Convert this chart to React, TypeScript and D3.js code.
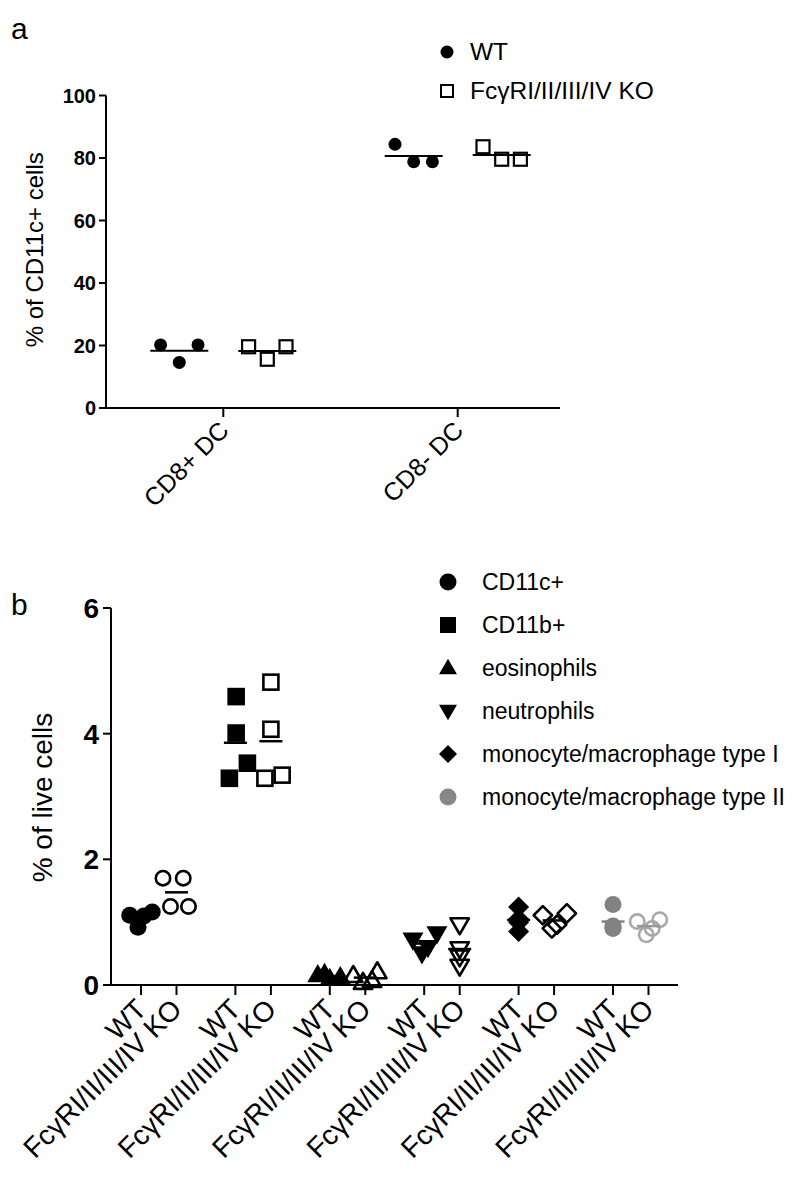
import React from 'react';
import * as d3 from 'd3';

// ---------- Panel a data ----------
const aCategories = ['CD8+ DC', 'CD8- DC'];
const aGenotypes = ['WT', 'FcγRI/II/III/IV KO'];
const aWT_CD8pos = [20.2, 14.6, 20.2];
const aKO_CD8pos = [19.6, 15.6, 19.6];
const aWT_CD8neg = [84.4, 78.8, 78.8];
const aKO_CD8neg = [83.6, 79.6, 79.6];
const aJitter = [-1, 0, 1];
const aYTicks = [0, 20, 40, 60, 80, 100];

// ---------- Panel b data ----------
const bCellTypes = ['CD11c+', 'CD11b+', 'eosinophils', 'neutrophils', 'monocyte/macrophage type I', 'monocyte/macrophage type II'];
const bGenotypeLabels = ['WT', 'FcγRI/II/III/IV KO'];
const bCD11cWT = [1.11, 0.92, 1.16, 1.10];
const bCD11cKO = [1.70, 1.70, 1.25, 1.25];
const bCD11bWT = [4.59, 4.01, 3.53, 3.29];
const bCD11bKO = [4.82, 4.07, 3.29, 3.34];
const bEosWT = [0.16, 0.10, 0.13, 0.18];
const bEosKO = [0.15, 0.04, 0.07, 0.21];
const bNeutWT = [0.72, 0.50, 0.82, 0.60];
const bNeutKO = [0.96, 0.58, 0.45, 0.30];
const bMacIWT = [1.24, 1.05, 0.85, 1.00];
const bMacIKO = [1.11, 1.14, 0.90, 0.96];
const bMacIIWT = [1.28, 0.90, 0.92, 0.94];
const bMacIIKO = [1.01, 1.04, 0.80, 0.90];
// horizontal jitter (units of ~marker radius)
const bCD11cWTJit = [-1.5, -0.4, 1.5, 0.4];
const bCD11cKOJit = [-1.8, 0.9, -0.8, 1.6];
const bCD11bWTJit = [0.1, 0.1, 1.6, -0.8];
const bCD11bKOJit = [0, 0, -0.8, 1.5];
const bEosWTJit = [-1.6, 0, 1.4, -0.7];
const bEosKOJit = [-1.6, -0.3, 0.9, 1.6];
const bNeutWTJit = [-1.5, -0.3, 1.7, 0.5];
const bNeutKOJit = [0, 0, 0, 0];
const bMacIWTJit = [0, 0, 0, 0];
const bMacIKOJit = [-1.5, 1.7, -0.3, 0.4];
const bMacIIWTJit = [0, 0, 0, 0];
const bMacIIKOJit = [-1.5, 1.5, -0.3, 0.5];
const bYTicks = [0, 2, 4, 6];

const FONT = "'Liberation Sans', Arial, Helvetica, sans-serif";

type Shape = 'circle' | 'square' | 'triUp' | 'triDown' | 'diamond';

function Marker({ shape, x, y, size, fill, stroke, sw }: { shape: Shape; x: number; y: number; size: number; fill: string; stroke: string; sw: number }) {
  if (shape === 'circle') return <circle cx={x} cy={y} r={size} fill={fill} stroke={stroke} strokeWidth={sw} />;
  if (shape === 'square') return <rect x={x - size} y={y - size} width={size * 2} height={size * 2} fill={fill} stroke={stroke} strokeWidth={sw} />;
  if (shape === 'diamond') {
    const p = `M${x},${y - size}L${x + size},${y}L${x},${y + size}L${x - size},${y}Z`;
    return <path d={p} fill={fill} stroke={stroke} strokeWidth={sw} strokeLinejoin="round" />;
  }
  const h = size * 1.732;
  const dir = shape === 'triUp' ? 1 : -1;
  const p = `M${x},${y - dir * h * 0.6}L${x + size},${y + dir * h * 0.4}L${x - size},${y + dir * h * 0.4}Z`;
  return <path d={p} fill={fill} stroke={stroke} strokeWidth={sw} strokeLinejoin="round" />;
}

function PanelA() {
  const y = d3.scaleLinear().domain([0, 100]).range([408, 95.5]);
  const x = d3.scalePoint<string>().domain(aCategories).range([223.3, 457.7]);
  const axisLeft = 106, axisRight = 560;
  const groupOff = 44, spread = 18.7, meanHalf = 29;
  const groups = [
    { cat: aCategories[0], g: 0, vals: aWT_CD8pos },
    { cat: aCategories[0], g: 1, vals: aKO_CD8pos },
    { cat: aCategories[1], g: 0, vals: aWT_CD8neg },
    { cat: aCategories[1], g: 1, vals: aKO_CD8neg },
  ];
  return (
    <g>
      <text x={11} y={39} fontSize={30} fontFamily={FONT}>a</text>
      {/* legend */}
      <circle cx={447} cy={52} r={6.5} fill="#000" />
      <text x={470} y={60} fontSize={24.5} fontFamily={FONT}>{aGenotypes[0]}</text>
      <rect x={441} y={85} width={12} height={12} fill="#fff" stroke="#000" strokeWidth={2} />
      <text x={470} y={99} fontSize={24.5} fontFamily={FONT}>{aGenotypes[1]}</text>
      {/* axes */}
      <line x1={axisLeft} x2={axisLeft} y1={y(100)} y2={y(0)} stroke="#000" strokeWidth={2} />
      <line x1={axisLeft - 1} x2={axisRight} y1={y(0)} y2={y(0)} stroke="#000" strokeWidth={2} />
      {aYTicks.map(t => (
        <g key={t}>
          <line x1={axisLeft - 7} x2={axisLeft} y1={y(t)} y2={y(t)} stroke="#000" strokeWidth={2} />
          <text x={axisLeft - 10} y={y(t)} dy="0.36em" textAnchor="end" fontSize={20} fontWeight="bold" fontFamily={FONT}>{t}</text>
        </g>
      ))}
      {aCategories.map(c => (
        <g key={c}>
          <line x1={x(c)} x2={x(c)} y1={y(0)} y2={y(0) + 9} stroke="#000" strokeWidth={2} />
          <text transform={`translate(${(x(c) as number) + 7},${y(0) + 24}) rotate(-45)`} textAnchor="end" fontSize={25} fontFamily={FONT}>{c}</text>
        </g>
      ))}
      <text transform={`translate(43,${y(50) - 2}) rotate(-90)`} textAnchor="middle" fontSize={24} fontFamily={FONT}>% of CD11c+ cells</text>
      {/* data */}
      {groups.map((gr, gi) => {
        const cx = (x(gr.cat) as number) + (gr.g === 0 ? -groupOff : groupOff);
        const m = d3.mean(gr.vals) as number;
        return (
          <g key={gi}>
            {gr.vals.map((v, i) => (
              <Marker key={i} shape={gr.g === 0 ? 'circle' : 'square'} x={cx + aJitter[i] * spread} y={y(v)} size={6.5} fill={gr.g === 0 ? '#000' : '#fff'} stroke="#000" sw={gr.g === 0 ? 0 : 2.2} />
            ))}
            <line x1={cx - meanHalf} x2={cx + meanHalf} y1={y(m)} y2={y(m)} stroke="#000" strokeWidth={2} />
          </g>
        );
      })}
    </g>
  );
}

function PanelB() {
  const y = d3.scaleLinear().domain([0, 6]).range([985, 608]);
  const slot = d3.scaleLinear().domain([0, 1]).range([141, 176.5]);
  const groupSpacing = 94.4 / 35.5;
  const pos = (g: number, k: number) => slot(g * groupSpacing + k);
  const axisLeft = 111, axisRight = 678;
  const jitUnit = 7.5;
  const meanHalf = 11.5;
  const shapes: Shape[] = ['circle', 'square', 'triUp', 'triDown', 'diamond', 'circle'];
  const sizes = [8.5, 8.8, 10.5, 10.5, 10.5, 8.5];
  const wtData = [bCD11cWT, bCD11bWT, bEosWT, bNeutWT, bMacIWT, bMacIIWT];
  const koData = [bCD11cKO, bCD11bKO, bEosKO, bNeutKO, bMacIKO, bMacIIKO];
  const wtJit = [bCD11cWTJit, bCD11bWTJit, bEosWTJit, bNeutWTJit, bMacIWTJit, bMacIIWTJit];
  const koJit = [bCD11cKOJit, bCD11bKOJit, bEosKOJit, bNeutKOJit, bMacIKOJit, bMacIIKOJit];
  const legendRows = d3.scaleLinear().domain([0, 5]).range([582, 797]);

  return (
    <g>
      <text x={11} y={615} fontSize={30} fontFamily={FONT}>b</text>
      {/* legend */}
      {bCellTypes.map((c, i) => {
        const grey = i === 5;
        return (
          <g key={c}>
            <Marker shape={shapes[i]} x={448} y={legendRows(i)} size={shapes[i] === 'square' ? 8 : shapes[i] === 'circle' ? 8.5 : 9} fill={grey ? '#878787' : '#000'} stroke="none" sw={0} />
            <text x={482} y={legendRows(i)} dy="0.36em" fontSize={23} fontFamily={FONT}>{c}</text>
          </g>
        );
      })}
      {/* axes */}
      <line x1={axisLeft} x2={axisLeft} y1={y(6)} y2={y(0)} stroke="#000" strokeWidth={2} />
      <line x1={axisLeft - 1} x2={axisRight} y1={y(0)} y2={y(0)} stroke="#000" strokeWidth={2} />
      {bYTicks.map(t => (
        <g key={t}>
          <line x1={axisLeft - 8} x2={axisLeft} y1={y(t)} y2={y(t)} stroke="#000" strokeWidth={2} />
          <text x={axisLeft - 12} y={y(t)} dy="0.36em" textAnchor="end" fontSize={28} fontWeight="bold" fontFamily={FONT}>{t}</text>
        </g>
      ))}
      <text transform={`translate(52,${y(3) + 1}) rotate(-90)`} textAnchor="middle" fontSize={28} fontFamily={FONT}>% of live cells</text>
      {bCellTypes.map((c, g) => (
        <g key={c}>
          {[0, 1].map(k => (
            <g key={k}>
              <line x1={pos(g, k)} x2={pos(g, k)} y1={y(0)} y2={y(0) + 10} stroke="#000" strokeWidth={2} />
              <text transform={`translate(${pos(g, k) + 7},${y(0) + 26}) rotate(-45)`} textAnchor="end" fontSize={28} fontFamily={FONT}>{bGenotypeLabels[k]}</text>
            </g>
          ))}
        </g>
      ))}
      {/* data */}
      {bCellTypes.map((c, g) => {
        const grey = g === 5;
        const items = [
          { k: 0, vals: wtData[g], jit: wtJit[g] },
          { k: 1, vals: koData[g], jit: koJit[g] },
        ];
        return (
          <g key={c}>
            {items.map(it => {
              const cx = pos(g, it.k);
              const m = d3.mean(it.vals) as number;
              const col = grey ? (it.k === 0 ? '#828282' : '#a8a8a8') : '#000';
              const lineCol = grey ? (it.k === 0 ? '#828282' : '#999') : '#000';
              return (
                <g key={it.k}>
                  {it.vals.map((v, i) => (
                    <Marker key={i} shape={shapes[g]} x={cx + it.jit[i] * jitUnit} y={y(v)}
                      size={it.k === 0 ? sizes[g] : sizes[g] - 1.3}
                      fill={it.k === 0 ? col : 'none'} stroke={col} sw={it.k === 0 ? 0 : 2.6} />
                  ))}
                  <line x1={cx - meanHalf} x2={cx + meanHalf} y1={y(m)} y2={y(m)} stroke={lineCol} strokeWidth={2.5} />
                </g>
              );
            })}
          </g>
        );
      })}
    </g>
  );
}

export default function App() {
  return (
    <svg width={800} height={1189} viewBox="0 0 800 1189" style={{ display: 'block', position: 'absolute', left: 0, top: 0, background: '#fff' }}>
      <rect width={800} height={1189} fill="#fff" />
      <PanelA />
      <PanelB />
    </svg>
  );
}
